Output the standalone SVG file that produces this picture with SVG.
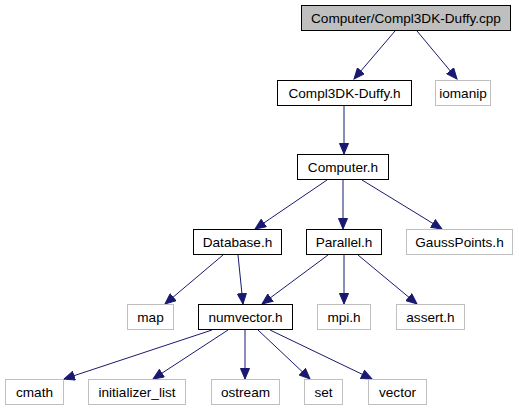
<svg xmlns="http://www.w3.org/2000/svg" width="519" height="411" viewBox="0 0 519 411">
<style>
.n rect{fill:#fff;stroke:#000;stroke-width:1}
.n.main rect{fill:#bfbfbf}
.n.ext rect{stroke:#bfbfbf}
.n text{font-family:"Liberation Sans",Arial,sans-serif;font-size:13.6px;fill:#000;text-anchor:middle}
.e line{stroke:#191970;stroke-width:1;fill:none;marker-end:url(#ah)}
</style>
<defs>
<marker id="ah" markerUnits="userSpaceOnUse" markerWidth="12" markerHeight="10" refX="11" refY="5" orient="auto" viewBox="0 0 12 10">
<path d="M0.5,0.5 L11,5 L0.5,9.5 z" fill="#191970" stroke="#191970" stroke-width="1"/>
</marker>
</defs>
<rect width="519" height="411" fill="#fff"/>
<g id="edges" class="e">
<line x1="395" y1="31" x2="354" y2="79"/>
<line x1="417" y1="31" x2="457" y2="79"/>
<line x1="344" y1="106" x2="344" y2="154"/>
<line x1="327" y1="180" x2="255" y2="229"/>
<line x1="343" y1="180" x2="343" y2="229"/>
<line x1="362" y1="180" x2="442" y2="229"/>
<line x1="223" y1="255" x2="165" y2="304"/>
<line x1="238" y1="255" x2="243" y2="304"/>
<line x1="328" y1="255" x2="262" y2="304"/>
<line x1="344" y1="255" x2="344" y2="304"/>
<line x1="358" y1="255" x2="417" y2="304"/>
<line x1="212" y1="330" x2="64" y2="379"/>
<line x1="228" y1="330" x2="153" y2="379"/>
<line x1="245" y1="330" x2="245" y2="379"/>
<line x1="258" y1="330" x2="310" y2="379"/>
<line x1="270" y1="330" x2="372" y2="379"/>
</g>
<g id="node_cpp" class="n main"><rect x="301.5" y="5.5" width="209" height="25"/><text x="406" y="22.5">Computer/Compl3DK-Duffy.cpp</text></g>
<g id="node_compl" class="n"><rect x="277.5" y="80.5" width="134" height="25"/><text x="344.5" y="97.5">Compl3DK-Duffy.h</text></g>
<g id="node_iomanip" class="n ext"><rect x="435.5" y="80.5" width="55" height="25"/><text x="463" y="97.5">iomanip</text></g>
<g id="node_computer" class="n"><rect x="297.5" y="154.5" width="91" height="25"/><text x="343" y="171.5">Computer.h</text></g>
<g id="node_database" class="n"><rect x="193.5" y="229.5" width="88" height="25"/><text x="237.5" y="246.5">Database.h</text></g>
<g id="node_parallel" class="n"><rect x="306.5" y="229.5" width="75" height="25"/><text x="344" y="246.5">Parallel.h</text></g>
<g id="node_gauss" class="n ext"><rect x="406.5" y="229.5" width="106" height="25"/><text x="459.5" y="246.5">GaussPoints.h</text></g>
<g id="node_map" class="n ext"><rect x="127.5" y="304.5" width="46" height="25"/><text x="150.5" y="321.5">map</text></g>
<g id="node_numvector" class="n"><rect x="198.5" y="304.5" width="94" height="25"/><text x="245.5" y="321.5">numvector.h</text></g>
<g id="node_mpi" class="n ext"><rect x="317.5" y="304.5" width="53" height="25"/><text x="344" y="321.5">mpi.h</text></g>
<g id="node_assert" class="n ext"><rect x="396.5" y="304.5" width="68" height="25"/><text x="430.5" y="321.5">assert.h</text></g>
<g id="node_cmath" class="n ext"><rect x="5.5" y="379.5" width="58" height="25"/><text x="34.5" y="396.5">cmath</text></g>
<g id="node_init" class="n ext"><rect x="88.5" y="379.5" width="97" height="25"/><text x="137" y="396.5">initializer_list</text></g>
<g id="node_ostream" class="n ext"><rect x="211.5" y="379.5" width="68" height="25"/><text x="245.5" y="396.5">ostream</text></g>
<g id="node_set" class="n ext"><rect x="304.5" y="379.5" width="38" height="25"/><text x="323.5" y="396.5">set</text></g>
<g id="node_vector" class="n ext"><rect x="368.5" y="379.5" width="58" height="25"/><text x="397.5" y="396.5">vector</text></g>
</svg>
